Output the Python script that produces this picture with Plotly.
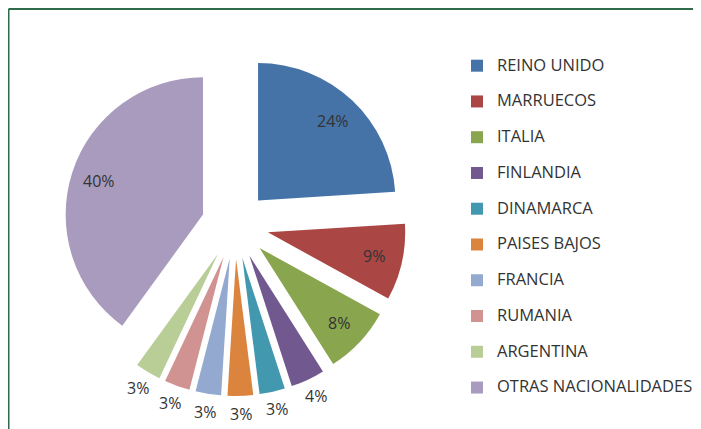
import math
import plotly.graph_objects as go

labels = ["REINO UNIDO", "MARRUECOS", "ITALIA", "FINLANDIA", "DINAMARCA",
          "PAISES BAJOS", "FRANCIA", "RUMANIA", "ARGENTINA", "OTRAS NACIONALIDADES"]
values = [24, 9, 8, 4, 3, 3, 3, 3, 3, 40]
colors = ["#4572A7", "#AA4643", "#89A54E", "#71588F", "#4198AF",
          "#DB843D", "#93A9CF", "#D19392", "#B9CD96", "#A99BBD"]
label_outside = [False, False, False, True, True, True, True, True, True, False]

PULL = 0.245
W, H = 701, 429
CX, CY, HALF = 227, 217, 171          # pie box centre / half size in px (from top-left)
dom_x = [(CX - HALF) / W, (CX + HALF) / W]
dom_y = [1 - (CY + HALF) / H, 1 - (CY - HALF) / H]
R_PX = HALF / (1 + PULL)             # pie radius in px
AX_HALF = 205                        # half size of the label axes box in px
ax_dom_x = [(CX - AX_HALF) / W, (CX + AX_HALF) / W]
ax_dom_y = [1 - (CY + AX_HALF) / H, 1 - (CY - AX_HALF) / H]
AX_EXT = AX_HALF / R_PX

total = sum(values)
cum = 0
mid_theta = []
for v in values:
    mid_theta.append((cum + v / 2) / total * 2 * math.pi)
    cum += v
pct_text = [f"{round(v / total * 100)}%" for v in values]

legend_labels = [f"<span style='font-size:16.5px'>{l}</span><br> " for l in labels]

fig = go.Figure()
fig.add_trace(go.Pie(
    labels=legend_labels,
    values=values,
    sort=False,
    direction="clockwise",
    rotation=0,
    pull=[PULL] * len(values),
    marker=dict(colors=colors, line=dict(width=0)),
    textinfo="none",
    hoverinfo="percent",
    domain=dict(x=dom_x, y=dom_y),
))
# empty helper trace so that the hidden label axes exist
fig.add_trace(go.Scatter(x=[], y=[], showlegend=False, hoverinfo="skip"))

annotations = []
for outside, t, s in zip(label_outside, mid_theta, pct_text):
    r = 1.31 if outside else 1.04
    annotations.append(dict(
        x=r * math.sin(t), y=r * math.cos(t), xref="x", yref="y",
        text=s, showarrow=False, xanchor="center", yanchor="middle",
        xshift=(11 * math.sin(t)) if outside else 0,
        yshift=(9 * math.cos(t)) if outside else 0,
        font=dict(family="Open Sans, sans-serif", size=16, color="#333333")))

fig.update_layout(
    width=W, height=H,
    margin=dict(l=0, r=0, t=0, b=0, autoexpand=False),
    paper_bgcolor="white",
    plot_bgcolor="rgba(0,0,0,0)",
    showlegend=True,
    xaxis=dict(domain=ax_dom_x, range=[-AX_EXT, AX_EXT], visible=False, fixedrange=True),
    yaxis=dict(domain=ax_dom_y, range=[-AX_EXT, AX_EXT], visible=False, fixedrange=True),
    annotations=annotations,
    legend=dict(x=0.6405, y=1 - 43 / H, xanchor="left", yanchor="top",
                valign="top",
                font=dict(family="Open Sans, sans-serif", size=12.6, color="#333333")),
    shapes=[
        dict(type="line", xref="paper", yref="paper", x0=0.5 / W, x1=1, y0=1 - 1 / H, y1=1 - 1 / H,
             line=dict(color="#2E6B4A", width=2)),
        dict(type="line", xref="paper", yref="paper", x0=0.5 / W, x1=0.5 / W, y0=0, y1=1 - 1 / H,
             line=dict(color="#2E6B4A", width=2)),
    ],
)

fig.write_html("out.html")
